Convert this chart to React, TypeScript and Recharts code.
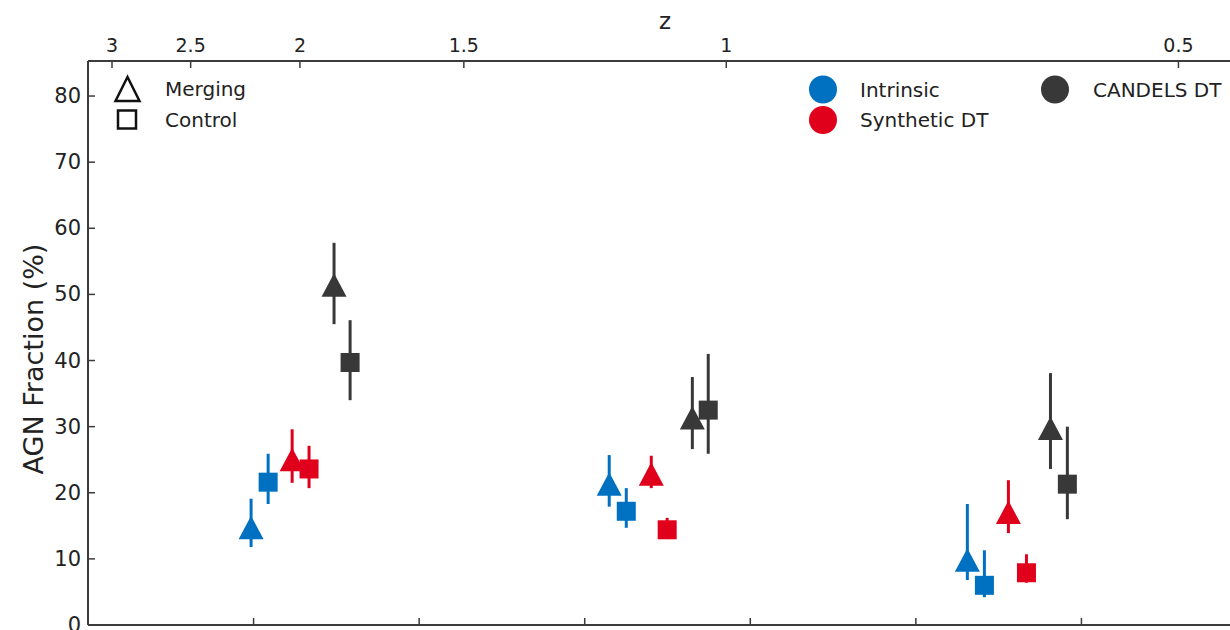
import React from 'react';
import { ScatterChart, Scatter, XAxis, YAxis, ErrorBar } from 'recharts';

// cosmic age (Gyr) of each point
const intrinsicMergingX = [2.985, 5.148, 7.311];
const intrinsicControlX = [3.088, 5.251, 7.414];
const syntheticMergingX = [3.233, 5.402, 7.559];
const syntheticControlX = [3.335, 5.498, 7.668];
const candelsMergingX = [3.486, 5.65, 7.813];
const candelsControlX = [3.583, 5.746, 7.915];

// AGN fraction (%) and error bar ends
const intrinsicMergingY = [14.7, 21.3, 9.8];
const intrinsicMergingLo = [11.8, 17.9, 6.8];
const intrinsicMergingHi = [19.1, 25.7, 18.3];

const intrinsicControlY = [21.6, 17.2, 6.0];
const intrinsicControlLo = [18.3, 14.7, 4.2];
const intrinsicControlHi = [25.9, 20.7, 11.3];

const syntheticMergingY = [25.0, 22.8, 17.0];
const syntheticMergingLo = [21.5, 20.7, 13.9];
const syntheticMergingHi = [29.6, 25.6, 21.9];

const syntheticControlY = [23.6, 14.4, 7.9];
const syntheticControlLo = [20.7, 13.0, 6.4];
const syntheticControlHi = [27.1, 16.2, 10.7];

const candelsMergingY = [51.4, 31.3, 29.7];
const candelsMergingLo = [45.5, 26.6, 23.6];
const candelsMergingHi = [57.8, 37.5, 38.1];

const candelsControlY = [39.7, 32.5, 21.3];
const candelsControlLo = [34.0, 25.9, 16.0];
const candelsControlHi = [46.1, 41.0, 30.0];

const yTicks = [0, 10, 20, 30, 40, 50, 60, 70, 80];
const ageTicks = [3, 4, 5, 6, 7, 8];
// redshift ticks of the top axis, placed at the matching cosmic age
const zTickAges = [2.145, 2.62, 3.28, 4.27, 5.855, 8.586];
const zTickLabels = ['3', '2.5', '2', '1.5', '1', '0.5'];

const BLUE = '#0070c0';
const RED = '#e0001b';
const DARK = '#383838';
const AXIS = '#3c3c3c';
const FONT = '"DejaVu Sans", sans-serif';

const toPoints = (xs: number[], ys: number[], lo: number[], hi: number[]) =>
  xs.map((x, i) => ({ x, y: ys[i], err: [ys[i] - lo[i], hi[i] - ys[i]] }));

// invisible anchor so the top axis has data bound to it
const zAnchor = zTickAges.map((x) => ({ x, y: 0 }));

const Triangle = (color: string) => (props: any) => {
  const { cx, cy } = props;
  return (
    <polygon
      points={`${cx},${cy - 12} ${cx - 12.5},${cy + 11.5} ${cx + 12.5},${cy + 11.5}`}
      fill={color}
    />
  );
};

const Square = (color: string) => (props: any) => {
  const { cx, cy } = props;
  return <rect x={cx - 9.5} y={cy - 9.5} width={19} height={19} fill={color} />;
};

const Nothing = () => <g />;

const LeftTick = (props: any) => {
  const { x, y, payload } = props;
  return (
    <g>
      <line x1={x} y1={y} x2={x + 7} y2={y} stroke={AXIS} strokeWidth={1.5} />
      <text x={x - 7} y={y} textAnchor="end" dominantBaseline="central" fontSize={21} fill="#222" fontFamily={FONT}>
        {payload.value}
      </text>
    </g>
  );
};

const TopTick = (props: any) => {
  const { x, y, payload } = props;
  const i = zTickAges.indexOf(payload.value);
  return (
    <g>
      <line x1={x} y1={y} x2={x} y2={y + 7} stroke={AXIS} strokeWidth={1.5} />
      <text x={x} y={y - 9} textAnchor="middle" fontSize={19} fill="#222" fontFamily={FONT}>
        {i >= 0 ? zTickLabels[i] : ''}
      </text>
    </g>
  );
};

const BottomTick = (props: any) => {
  const { x, y } = props;
  return <line x1={x} y1={y} x2={x} y2={y - 7} stroke={AXIS} strokeWidth={1.5} />;
};

const series = [
  { name: 'intrinsic-merging', data: toPoints(intrinsicMergingX, intrinsicMergingY, intrinsicMergingLo, intrinsicMergingHi), color: BLUE, shape: Triangle(BLUE) },
  { name: 'intrinsic-control', data: toPoints(intrinsicControlX, intrinsicControlY, intrinsicControlLo, intrinsicControlHi), color: BLUE, shape: Square(BLUE) },
  { name: 'synthetic-merging', data: toPoints(syntheticMergingX, syntheticMergingY, syntheticMergingLo, syntheticMergingHi), color: RED, shape: Triangle(RED) },
  { name: 'synthetic-control', data: toPoints(syntheticControlX, syntheticControlY, syntheticControlLo, syntheticControlHi), color: RED, shape: Square(RED) },
  { name: 'candels-merging', data: toPoints(candelsMergingX, candelsMergingY, candelsMergingLo, candelsMergingHi), color: DARK, shape: Triangle(DARK) },
  { name: 'candels-control', data: toPoints(candelsControlX, candelsControlY, candelsControlLo, candelsControlHi), color: DARK, shape: Square(DARK) },
];

export default function App() {
  return (
    <div style={{ position: 'fixed', left: 0, top: 0, width: 1230, height: 630, overflow: 'hidden', background: '#fff' }}>
      <ScatterChart width={1250} height={655} margin={{ top: 0, right: 3, bottom: 0, left: 8 }}>
        <XAxis
          xAxisId="age"
          dataKey="x"
          type="number"
          domain={[2, 9]}
          ticks={ageTicks}
          allowDataOverflow
          interval={0}
          height={30}
          tickSize={0}
          tickMargin={0}
          tickLine={false}
          tick={<BottomTick />}
          axisLine={{ stroke: AXIS, strokeWidth: 2 }}
        />
        <XAxis
          xAxisId="z"
          dataKey="x"
          orientation="top"
          type="number"
          domain={[2, 9]}
          ticks={zTickAges}
          allowDataOverflow
          interval={0}
          height={61}
          tickSize={0}
          tickMargin={0}
          tickLine={false}
          tick={<TopTick />}
          axisLine={{ stroke: AXIS, strokeWidth: 2 }}
        />
        <YAxis
          dataKey="y"
          type="number"
          domain={[0, 85.3]}
          ticks={yTicks}
          allowDataOverflow
          interval={0}
          width={80}
          tickSize={0}
          tickMargin={0}
          tickLine={false}
          tick={<LeftTick />}
          axisLine={{ stroke: AXIS, strokeWidth: 2 }}
        />
        <Scatter xAxisId="z" data={zAnchor} shape={Nothing} isAnimationActive={false} legendType="none" />
        {series.map((s) => (
          <Scatter key={s.name} xAxisId="age" data={s.data} fill={s.color} shape={s.shape} isAnimationActive={false}>
            <ErrorBar dataKey="err" direction="y" width={0} stroke={s.color} strokeWidth={3} isAnimationActive={false} />
          </Scatter>
        ))}
      </ScatterChart>

      <svg width={1230} height={630} style={{ position: 'absolute', left: 0, top: 0, pointerEvents: 'none' }} fontFamily={FONT}>
        <text x={665} y={29} textAnchor="middle" fontSize={23} fill="#222">z</text>
        <text x={33} y={359} textAnchor="middle" dominantBaseline="central" fontSize={27} fill="#222" transform="rotate(-90 33 359)">
          AGN Fraction (%)
        </text>

        <polygon points="127.5,77 115.5,101 139.5,101" fill="none" stroke="#111" strokeWidth={2.5} />
        <text x={165} y={89} dominantBaseline="central" fontSize={20} fill="#222">Merging</text>
        <rect x={118} y={110.5} width={18} height={18} fill="none" stroke="#111" strokeWidth={2.5} />
        <text x={165} y={119.5} dominantBaseline="central" fontSize={20} fill="#222">Control</text>

        <circle cx={823} cy={89.5} r={14} fill={BLUE} />
        <text x={860} y={89.5} dominantBaseline="central" fontSize={20} fill="#222">Intrinsic</text>
        <circle cx={823} cy={120} r={14} fill={RED} />
        <text x={860} y={120} dominantBaseline="central" fontSize={20} fill="#222">Synthetic DT</text>
        <circle cx={1055} cy={89.5} r={14} fill={DARK} />
        <text x={1093} y={89.5} dominantBaseline="central" fontSize={20} fill="#222">CANDELS DT</text>
      </svg>
    </div>
  );
}
